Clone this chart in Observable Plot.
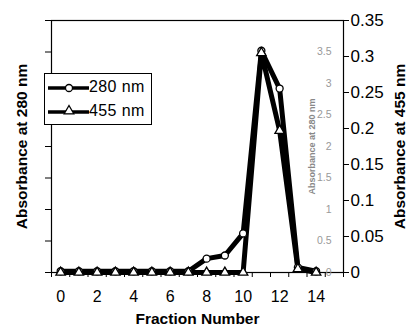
<!DOCTYPE html>
<html><head><meta charset="utf-8">
<script src="https://cdn.jsdelivr.net/npm/d3@7"></script>
<script src="https://cdn.jsdelivr.net/npm/@observablehq/plot@0.6"></script>
<style>
body{margin:0;background:#fff;font-family:"Liberation Sans",Arial,sans-serif}
#wrap{position:relative;width:414px;height:333px}
#legend{position:absolute;left:44px;top:73px;width:106px;height:50px;border:1px solid #000;background:#fff;font-size:16px}
#legend div{position:absolute;left:44px;letter-spacing:0.4px}
</style></head><body><div id="wrap"></div>
<script>
const fractions = [0,1,2,3,4,5,6,7,8,9,10,11,12,13,14];
const abs280 = [0.02,0.02,0.02,0.02,0.02,0.02,0.02,0.02,0.22,0.27,0.62,3.52,2.92,0.08,0.02];
const abs455 = [0,0,0,0,0,0,0,0,0,0,0,0.305,0.197,0.005,0];
const seriesNames = ["280 nm","455 nm"];
const leftTicks = [0,0.5,1,1.5,2,2.5,3,3.5,4];
const innerTicks = [0,0.5,1,1.5,2,2.5,3,3.5];
const rightTicks = [0,0.05,0.1,0.15,0.2,0.25,0.3,0.35];
const xLabelTicks = [0,2,4,6,8,10,12,14];
const xBoundaryTicks = [-0.5,0.5,1.5,2.5,3.5,4.5,5.5,6.5,7.5,8.5,9.5,10.5,11.5,12.5,13.5,14.5,15.5];
const leftMax = 4, rightMax = 0.35;
const ratio = leftMax / rightMax;

const d280 = fractions.map((f,i)=>({f, v:abs280[i]}));
const d455 = fractions.map((f,i)=>({f, v:abs455[i]*ratio}));

const chart = Plot.plot({
  width:414, height:333,
  marginLeft:51, marginRight:71, marginTop:20, marginBottom:61,
  x:{domain:[-0.5,15.5]},
  y:{domain:[0,leftMax]},
  style:{fontFamily:'"Liberation Sans",Arial,sans-serif', fontSize:"16px", color:"#000", background:"#fff"},
  marks:[
    Plot.frame({stroke:"#000", strokeWidth:1.2}),
    Plot.axisY(leftTicks,{anchor:"left", tickSize:6, tickFormat:()=>"", label:null}),
    Plot.axisY(rightTicks.map(t=>t*ratio),{anchor:"right", tickSize:5, tickPadding:2, fontSize:17, tickFormat:d=>String(+(d/ratio).toFixed(2)), label:null, style:"letter-spacing:1.5px"}),
    Plot.text(innerTicks,{y:d=>d, frameAnchor:"right", dx:-12, textAnchor:"end", text:d=>String(d), fontSize:10.5, fill:"#999"}),
    Plot.text(["Absorbance at 280 nm"],{frameAnchor:"right", dx:-31, textAnchor:"middle", rotate:-90, fontSize:9, fontWeight:"bold", fill:"#888", style:"letter-spacing:2.4px"}),
    Plot.axisX(xBoundaryTicks,{tickSize:5, tickFormat:()=>"", label:null}),
    Plot.axisX(xLabelTicks,{tickSize:0, tickPadding:18, fontSize:16, label:null}),
    Plot.text(["Absorbance at 280 nm"],{frameAnchor:"left", dx:-29, textAnchor:"middle", rotate:-90, fontSize:15.5, fontWeight:"bold"}),
    Plot.text(["Absorbance at 455 nm"],{frameAnchor:"right", dx:57, textAnchor:"middle", rotate:-90, fontSize:15.5, fontWeight:"bold"}),
    Plot.text(["Fraction Number"],{frameAnchor:"bottom", dy:51, textAnchor:"middle", fontSize:15.5, fontWeight:"bold"}),
    Plot.line(d280,{x:"f", y:"v", stroke:"#000", strokeWidth:5, strokeLinejoin:"round"}),
    Plot.line(d455,{x:"f", y:"v", stroke:"#000", strokeWidth:5, strokeLinejoin:"round"}),
    Plot.dot(d280,{x:"f", y:"v", symbol:"circle", r:3.5, fill:"#fff", stroke:"#000", strokeWidth:1.3}),
    Plot.dot(d455,{x:"f", y:"v", symbol:"triangle", r:3.5, fill:"#fff", stroke:"#000", strokeWidth:1.3})
  ]
});
const wrap = document.getElementById("wrap");
wrap.appendChild(chart);

const leg = document.createElement("div");
leg.id = "legend";
leg.innerHTML = `<svg width="106" height="50" style="position:absolute;left:0;top:0">
 <line x1="3" x2="44" y1="14" y2="14" stroke="#000" stroke-width="3.5"/>
 <circle cx="24" cy="14" r="3.5" fill="#fff" stroke="#000" stroke-width="1.3"/>
 <line x1="3" x2="44" y1="38" y2="38" stroke="#000" stroke-width="3.5"/>
 <path d="${d3.symbol(d3.symbolTriangle, 40)()}" transform="translate(24,37)" fill="#fff" stroke="#000" stroke-width="1.3"/>
</svg><div style="top:4px">${seriesNames[0]}</div><div style="top:28px">${seriesNames[1]}</div>`;
wrap.appendChild(leg);
</script></body></html>
